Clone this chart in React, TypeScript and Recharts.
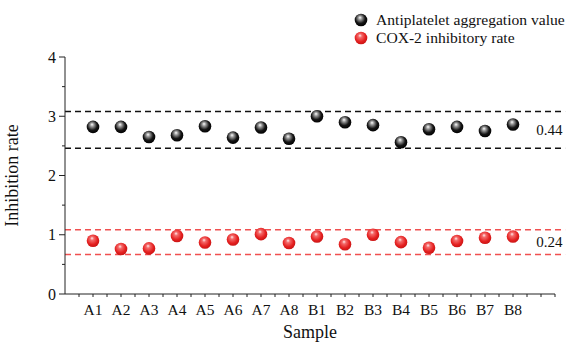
import React from "react";
import {
  ComposedChart,
  Scatter,
  XAxis,
  YAxis,
  ReferenceLine,
  ReferenceDot,
  Legend,
} from "recharts";

const categories = ["A1", "A2", "A3", "A4", "A5", "A6", "A7", "A8", "B1", "B2", "B3", "B4", "B5", "B6", "B7", "B8"];
const antiplatelet = [2.82, 2.82, 2.65, 2.68, 2.83, 2.64, 2.81, 2.62, 3.0, 2.9, 2.85, 2.56, 2.78, 2.82, 2.75, 2.86];
const cox2 = [0.9, 0.76, 0.77, 0.98, 0.87, 0.92, 1.01, 0.86, 0.97, 0.84, 1.0, 0.875, 0.78, 0.895, 0.95, 0.97];
const blackBand = [2.46, 3.08];
const redBand = [0.665, 1.085];
const bandLabels = ["0.44", "0.24"];
const yTicks = [0, 0.5, 1, 1.5, 2, 2.5, 3, 3.5, 4];
const xTicks = [0.5, 1, 1.5, 2, 2.5, 3, 3.5, 4, 4.5, 5, 5.5, 6, 6.5, 7, 7.5, 8, 8.5, 9, 9.5, 10, 10.5, 11, 11.5, 12, 12.5, 13, 13.5, 14, 14.5, 15, 15.5, 16, 16.5, 17, 17.5];

const blackData = categories.map((c, i) => ({ x: i + 1, y: antiplatelet[i], name: c }));
const redData = categories.map((c, i) => ({ x: i + 1, y: cox2[i], name: c }));

const FONT = "'Liberation Serif', 'Times New Roman', serif";

const Ball = (color: string) => (props: any) => {
  const { cx, cy } = props;
  if (cx == null || cy == null) return null;
  return <circle cx={cx} cy={cy} r={6.3} fill={`url(#${color})`} />;
};

const YTick = (props: any) => {
  const { x, y, payload } = props;
  const ax = x + 8;
  const v = payload.value;
  const major = Number.isInteger(v);
  return (
    <g>
      <line x1={ax - (major ? 6 : 3)} x2={ax} y1={y} y2={y} stroke="#222" strokeWidth={1} />
      {major && (
        <text x={ax - 9} y={y + 5.5} textAnchor="end" fontFamily={FONT} fontSize={16} fill="#111">
          {v}
        </text>
      )}
    </g>
  );
};

const XTick = (props: any) => {
  const { x, y, payload } = props;
  const ay = y - 8;
  const v = payload.value;
  const major = Number.isInteger(v) && v >= 1 && v <= 16;
  return (
    <g>
      <line x1={x} x2={x} y1={ay} y2={ay + 3} stroke="#222" strokeWidth={1} />
      {major && (
        <text x={x} y={ay + 20.5} textAnchor="middle" fontFamily={FONT} fontSize={15.5} fill="#111">
          {categories[v - 1]}
        </text>
      )}
    </g>
  );
};

const svgStyle = { marginRight: 8, flexShrink: 0 } as React.CSSProperties;

const LegendContent = () => (
  <div style={{ fontFamily: FONT, fontSize: 15.6, color: "#111", lineHeight: "18.5px", whiteSpace: "nowrap" }}>
    <div style={{ display: "flex", alignItems: "center" }}>
      <svg width={14} height={14} style={svgStyle}>
        <circle cx={7} cy={7} r={6.3} fill="url(#gBlack)" />
      </svg>
      <span>Antiplatelet aggregation value</span>
    </div>
    <div style={{ display: "flex", alignItems: "center" }}>
      <svg width={14} height={14} style={svgStyle}>
        <circle cx={7} cy={7} r={6.3} fill="url(#gRed)" />
      </svg>
      <span>COX-2 inhibitory rate</span>
    </div>
  </div>
);

export default function App() {
  return (
    <div style={{ position: "absolute", left: 0, top: 0, width: 572, height: 342, background: "#fff", overflow: "hidden" }}>
      <svg width={0} height={0} style={{ position: "absolute" }}>
        <defs>
          <radialGradient id="gBlack" cx="0.45" cy="0.42" r="0.6" fx="0.42" fy="0.3">
            <stop offset="0%" stopColor="#ffffff" />
            <stop offset="25%" stopColor="#999" />
            <stop offset="65%" stopColor="#151515" />
            <stop offset="100%" stopColor="#000" />
          </radialGradient>
          <radialGradient id="gRed" cx="0.45" cy="0.42" r="0.6" fx="0.42" fy="0.3">
            <stop offset="0%" stopColor="#ffecec" />
            <stop offset="25%" stopColor="#f46a6a" />
            <stop offset="70%" stopColor="#e42020" />
            <stop offset="100%" stopColor="#c81414" />
          </radialGradient>
        </defs>
      </svg>
      <ComposedChart width={572} height={342} margin={{ top: 20, right: 17, bottom: 0, left: 0 }}>
        <XAxis
          type="number"
          dataKey="x"
          domain={[0, 17.5]}
          ticks={xTicks}
          interval={0}
          height={48}
          axisLine={{ stroke: "#222" }}
          tickLine={false}
          tick={<XTick />}
          label={{ value: "Sample", position: "insideBottom", offset: 0, fontFamily: FONT, fontSize: 18, fill: "#111", dy: -4 }}
        />
        <YAxis
          type="number"
          dataKey="y"
          domain={[0, 4]}
          ticks={yTicks}
          interval={0}
          width={65}
          axisLine={{ stroke: "#222" }}
          tickLine={false}
          tick={<YTick />}
          label={{ value: "Inhibition rate", angle: -90, position: "insideLeft", offset: 12, fontFamily: FONT, fontSize: 18, fill: "#111", style: { textAnchor: "middle" } }}
        />
        <Legend
          verticalAlign="top"
          align="left"
          content={<LegendContent />}
          wrapperStyle={{ position: "absolute", top: 10.5, left: 354, width: 217 }}
        />
        {blackBand.map((v) => (
          <ReferenceLine key={"b" + v} segment={[{ x: 0, y: v }, { x: 17.86, y: v }]} stroke="#111" strokeWidth={1.5} strokeDasharray="6 4" ifOverflow="visible" />
        ))}
        {redBand.map((v) => (
          <ReferenceLine key={"r" + v} segment={[{ x: 0, y: v }, { x: 17.86, y: v }]} stroke="#f05050" strokeWidth={1.5} strokeDasharray="6 4" ifOverflow="visible" />
        ))}
        <ReferenceDot x={17.3} y={(blackBand[0] + blackBand[1]) / 2} r={0} ifOverflow="visible" label={{ value: bandLabels[0], position: "center", fontFamily: FONT, fontSize: 15, fill: "#111" }} />
        <ReferenceDot x={17.3} y={(redBand[0] + redBand[1]) / 2} r={0} ifOverflow="visible" label={{ value: bandLabels[1], position: "center", fontFamily: FONT, fontSize: 15, fill: "#111" }} />
        <Scatter name="Antiplatelet aggregation value" data={blackData} shape={Ball("gBlack")} isAnimationActive={false} />
        <Scatter name="COX-2 inhibitory rate" data={redData} shape={Ball("gRed")} isAnimationActive={false} />
      </ComposedChart>
    </div>
  );
}
